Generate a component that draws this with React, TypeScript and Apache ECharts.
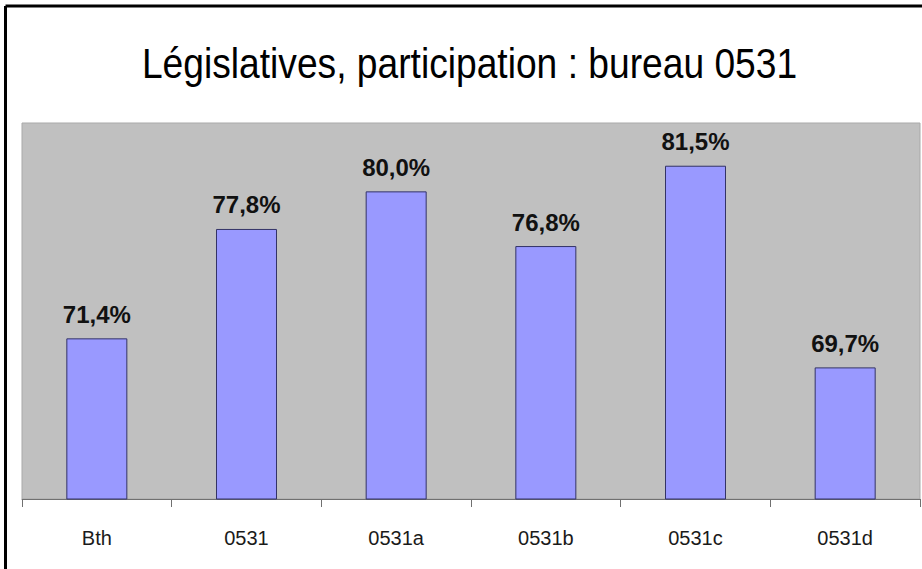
import React, { useEffect, useRef } from "react";
import * as echarts from "echarts";

const titleText = "Législatives, participation : bureau 0531";
const categories = ["Bth", "0531", "0531a", "0531b", "0531c", "0531d"];
const participation = [71.4, 77.8, 80.0, 76.8, 81.5, 69.7];
const yMin = 62;
const yMax = 84;

export default function App() {
  const ref = useRef<HTMLDivElement>(null);
  useEffect(() => {
    if (!ref.current) return;
    const chart = echarts.init(ref.current, null, { renderer: "svg" });
    chart.setOption({
      animation: false,
      backgroundColor: "#ffffff",
      grid: {
        left: 22,
        right: 2,
        top: 123,
        bottom: 70,
        show: true,
        backgroundColor: "#C0C0C0",
        borderColor: "#a9a9a9",
        borderWidth: 1,
      },
      graphic: [
        {
          type: "line",
          shape: { x1: 5.5, y1: 6, x2: 922, y2: 6 },
          style: { stroke: "#000000", lineWidth: 3 },
          z: 10,
        },
        {
          type: "line",
          shape: { x1: 5.5, y1: 6, x2: 5.5, y2: 569 },
          style: { stroke: "#000000", lineWidth: 3 },
          z: 10,
        },
        {
          type: "text",
          x: 469.5,
          y: 64,
          scaleX: 0.865,
          style: {
            text: titleText,
            fontFamily: "Liberation Sans, Arial, sans-serif",
            fontSize: 43,
            fill: "#000000",
            textAlign: "center",
            textVerticalAlign: "middle",
            verticalAlign: "middle",
          },
          z: 10,
        },
      ],
      xAxis: {
        type: "category",
        data: categories,
        boundaryGap: true,
        axisLine: { show: true, lineStyle: { color: "#707070", width: 1 } },
        axisTick: { show: true, length: 8, lineStyle: { color: "#707070" } },
        axisLabel: {
          color: "#1a1a1a",
          fontFamily: "Liberation Sans, Arial, sans-serif",
          fontSize: 20,
          margin: 29,
        },
        splitLine: { show: false },
      },
      yAxis: {
        type: "value",
        min: yMin,
        max: yMax,
        show: false,
        splitLine: { show: false },
      },
      series: [
        {
          type: "bar",
          data: participation,
          barWidth: 61,
          itemStyle: {
            color: "#9999FF",
            borderColor: "#333366",
            borderWidth: 1,
          },
          label: {
            show: true,
            position: "top",
            distance: 12,
            color: "#111111",
            fontFamily: "Liberation Sans, Arial, sans-serif",
            fontWeight: "bold",
            fontSize: 24,
            formatter: (p: any) => p.value.toFixed(1).replace(".", ",") + "%",
          },
        },
      ],
    });
    return () => chart.dispose();
  }, []);
  return (
    <div
      ref={ref}
      style={{ position: "fixed", left: 0, top: 0, width: 922, height: 569 }}
    />
  );
}
